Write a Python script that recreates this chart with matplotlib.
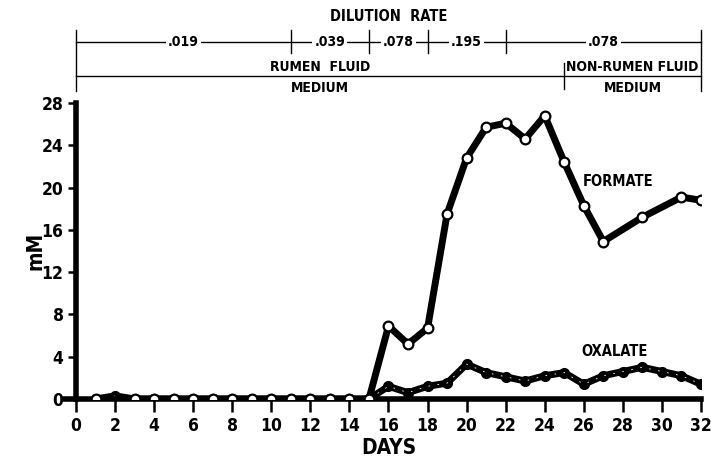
import matplotlib
matplotlib.use("Agg")
import matplotlib.pyplot as plt

plt.rcParams['font.family'] = ['DejaVu Sans']
plt.rcParams['font.stretch'] = 'condensed'
plt.rcParams['font.weight'] = 'bold'

# ---- data ----
formate_days = [1, 3, 4, 5, 6, 7, 8, 9, 10, 11, 12, 13, 14, 15,
                16, 17, 18, 19, 20, 21, 22, 23, 24, 25, 26, 27, 29, 31, 32]
formate_mM = [0, 0, 0, 0, 0, 0, 0, 0, 0, 0, 0, 0, 0, 0,
              6.9, 5.2, 6.7, 17.5, 22.8, 25.7, 26.1, 24.6, 26.8, 22.4, 18.3, 14.9, 17.2, 19.1, 18.8]

oxalate_days = [1, 2, 3, 4, 5, 6, 7, 8, 9, 10, 11, 12, 13, 14, 15,
                16, 17, 18, 19, 20, 21, 22, 23, 24, 25, 26, 27, 28, 29, 30, 31, 32]
oxalate_mM = [0, 0.3, 0, 0, 0, 0, 0, 0, 0, 0, 0, 0, 0, 0, 0,
              1.2, 0.6, 1.2, 1.5, 3.3, 2.5, 2.1, 1.7, 2.2, 2.5, 1.4, 2.2, 2.6, 3.0, 2.6, 2.2, 1.4]

dilution_edges = [0, 11, 15, 18, 22, 32]
dilution_labels = [".019", ".039", ".078", ".195", ".078"]
medium_edges = [0, 25, 32]
medium_labels = [("RUMEN  FLUID", "MEDIUM"), ("NON-RUMEN FLUID", "MEDIUM")]

fig = plt.figure(figsize=(7.11, 4.61), dpi=100)
ax = fig.add_axes([0.1069, 0.1345, 0.879, 0.642])

ax.plot(oxalate_days, oxalate_mM, color="black", lw=5, marker="o", ms=7,
        mfc="black", mec="black", solid_capstyle="round", zorder=3)
ax.plot(oxalate_days, oxalate_mM, color="white", lw=0.6, ls=(0, (2, 9)), zorder=3.5)
ax.plot(formate_days, formate_mM, color="black", lw=5, marker="o", ms=7,
        mfc="white", mec="black", mew=1.6, solid_joinstyle="round", zorder=4)

ax.set_xlim(0, 32)
ax.set_ylim(0, 28)
ax.set_xticks(range(0, 33, 2))
ax.set_yticks(range(0, 29, 4))
for s in ["top", "right"]:
    ax.spines[s].set_visible(False)
ax.spines["left"].set_linewidth(4)
ax.spines["bottom"].set_visible(False)
ax.plot([-0.55, 32], [0, 0], color="black", lw=4, clip_on=False, zorder=2)
ax.tick_params(axis="x", direction="out", length=9, width=1.8, pad=4, labelsize=12.5)
ax.tick_params(axis="y", direction="out", length=6, width=1.8, pad=3, labelsize=12.5)
for lab in ax.get_xticklabels() + ax.get_yticklabels():
    lab.set_fontweight("bold")

ax.set_xlabel("DAYS", fontsize=15, fontweight="bold", labelpad=2)
ax.set_ylabel("mM", fontsize=15, fontweight="bold", labelpad=-3)

ax.text(25.95, 20.6, "FORMATE", fontsize=10.5, fontweight="bold", ha="left", va="center")
ax.text(25.9, 4.45, "OXALATE", fontsize=10.5, fontweight="bold", ha="left", va="center")

# ---- top annotation bars ----
tr = ax.get_xaxis_transform()
y_dil, y_med = 1.206, 1.091
ax.text(16, 1.294, "DILUTION  RATE", transform=tr, ha="center", va="center",
        fontsize=10.5, fontweight="bold", clip_on=False)
ax.plot([0, 32], [y_dil, y_dil], transform=tr, color="black", lw=1, clip_on=False)
ax.plot([0, 32], [y_med, y_med], transform=tr, color="black", lw=1, clip_on=False)
for e in (0, 32):
    ax.plot([e, e], [1.041, 1.247], transform=tr, color="black", lw=1, clip_on=False)
for e in dilution_edges[1:-1]:
    ax.plot([e, e], [1.169, 1.247], transform=tr, color="black", lw=1, clip_on=False)
for e in medium_edges[1:-1]:
    ax.plot([e, e], [1.047, 1.135], transform=tr, color="black", lw=1, clip_on=False)
for a, b, t in zip(dilution_edges[:-1], dilution_edges[1:], dilution_labels):
    ax.text((a + b) / 2, y_dil, t, transform=tr, ha="center", va="center", fontsize=10,
            fontweight="bold", bbox=dict(facecolor="white", edgecolor="none", pad=1.5),
            clip_on=False)
for a, b, (t1, t2) in zip(medium_edges[:-1], medium_edges[1:], medium_labels):
    ax.text((a + b) / 2, 1.122, t1, transform=tr, ha="center", va="center",
            fontsize=10, fontweight="bold", clip_on=False)
    ax.text((a + b) / 2, 1.051, t2, transform=tr, ha="center", va="center",
            fontsize=10, fontweight="bold", clip_on=False)

fig.savefig("out.png", dpi=100)
